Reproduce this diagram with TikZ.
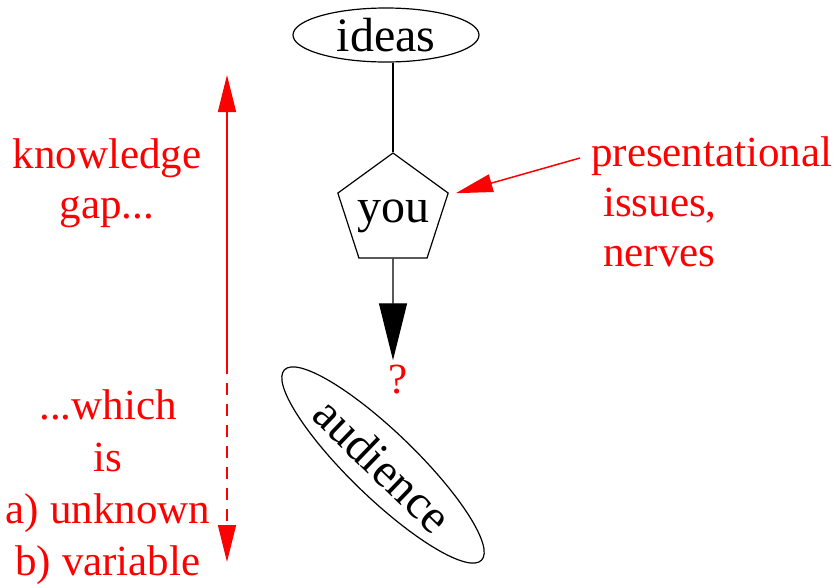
\documentclass[tikz,border=0pt]{standalone}
\usepackage{fontspec}
\setmainfont{Liberation Serif}
\usetikzlibrary{shapes.geometric,arrows.meta}

\begin{document}
\begin{tikzpicture}[x=1pt, y=-1pt,
    txt/.style={font=\fontsize{48}{52}\selectfont, inner sep=0pt, text depth=0pt},
    note/.style={font=\fontsize{43}{50}\selectfont, inner sep=0pt, text=red},
    oval/.style={txt, draw, ellipse, line width=1.2pt},
    person/.style={txt, draw, regular polygon, regular polygon sides=5,
                   inner sep=-5pt, minimum size=116pt, line width=1.2pt},
    link/.style={line width=1.2pt},
    flow/.style={line width=1.2pt, -{Triangle[length=57pt,width=28pt]}},
    hint/.style={red, line width=1.5pt, -{Triangle[length=37pt,width=18pt]}}
]
\useasboundingbox (0,0) rectangle (835,584);

\node[oval, minimum width=186pt, minimum height=54pt] (ideas) at (386,35) {ideas};
\node[person] (you) at (393,211) {you};
\node[note] (query) at (398,380) {?};
\node[oval, rotate=-44, minimum width=274pt, minimum height=66pt] (audience) at (383,465) {audience};

\node[note, align=left, anchor=north west] (issues) at (591,136)
    {presentational\\\hspace{12pt}issues,\\\hspace{12pt}nerves};
\node[note, align=center, anchor=north] (gap) at (107,138) {knowledge\\gap...};
\node[note, align=center, anchor=north, font=\fontsize{43}{52}\selectfont] (which) at (108,389)
    {...which\\is\\a) unknown\\b) variable};

% ends of the red arrows
\coordinate (gaptop) at (227,75);
\coordinate (gapmid) at (227,362);
\coordinate (gapend) at (227,562);
\coordinate (issuesfrom) at (580,158);

\draw[link] (you.north) -- (you.north |- ideas.south);
\draw[flow, shorten >=5pt] (you) -- (you |- query.north);
\draw[hint, shorten >=8pt] (issuesfrom) -- (you);
\draw[hint, {Triangle[length=37pt,width=18pt]}-] (gaptop) -- (gapmid);
\draw[hint, dash pattern=on 12pt off 9pt] (gapmid) -- (gapend);

\end{tikzpicture}
\end{document}
